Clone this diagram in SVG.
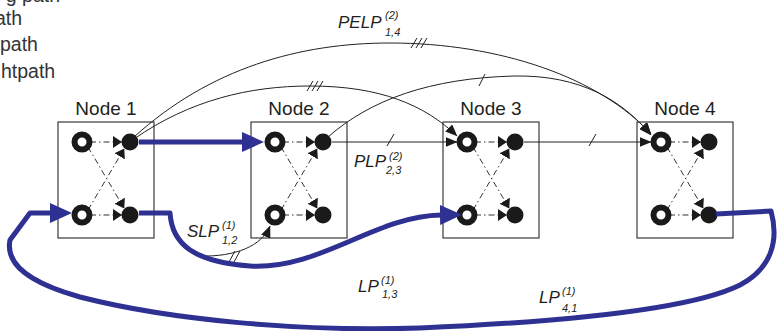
<svg xmlns="http://www.w3.org/2000/svg" xmlns:xlink="http://www.w3.org/1999/xlink" width="781" height="331" viewBox="0 0 781 331">
<style>
.box{fill:#fff;stroke:#3a3a3a;stroke-width:1.2}
.open{fill:#fff;stroke:#1a1a1a;stroke-width:6}
.fil{fill:#1a1a1a}
.dash{fill:none;stroke:#333;stroke-width:1;stroke-dasharray:6 3 1.5 3}
.thin{fill:none;stroke:#222;stroke-width:1}
.blue{fill:none;stroke:#2e3192;stroke-width:5;stroke-linejoin:round}
.txt{font-family:"Liberation Sans",Arial,sans-serif;font-size:19px;fill:#231f20}
.leg{font-family:"Liberation Sans",Arial,sans-serif;font-size:19.5px;fill:#333}
.it{font-family:"Liberation Sans",Arial,sans-serif;font-style:italic;font-size:17px;fill:#231f20}
.sm{font-family:"Liberation Sans",Arial,sans-serif;font-style:italic;font-size:11px;fill:#231f20}
</style>
<defs>
<marker id="sa" markerUnits="userSpaceOnUse" markerWidth="9" markerHeight="12" refX="8.5" refY="6" orient="auto"><path d="M0,0 L9,6 L0,12 z" fill="#1a1a1a"/></marker>
<marker id="ta" markerUnits="userSpaceOnUse" markerWidth="12" markerHeight="10" refX="11.5" refY="5" orient="auto"><path d="M0,0 L12,5 L0,10 z" fill="#1a1a1a"/></marker>
<marker id="ba" markerUnits="userSpaceOnUse" markerWidth="22" markerHeight="20" refX="1" refY="10" orient="auto"><path d="M0,0 L22,10 L0,20 z" fill="#2e3192"/></marker>
<g id="inner">
<rect class="box" x="0" y="0" width="96" height="116"/>
<line class="dash" x1="32" y1="20" x2="63.5" y2="20" marker-end="url(#sa)"/>
<line class="dash" x1="32" y1="93" x2="63.5" y2="93" marker-end="url(#sa)"/>
<line class="dash" x1="30" y1="25" x2="66" y2="86" marker-end="url(#sa)"/>
<line class="dash" x1="30" y1="88" x2="66" y2="27" marker-end="url(#sa)"/>
<circle class="open" cx="24" cy="20" r="7.5"/>
<circle class="open" cx="24" cy="93" r="7.5"/>
<circle class="fil" cx="72" cy="20" r="8.5"/>
<circle class="fil" cx="72" cy="93" r="8.5"/>
</g>
</defs>

<g id="legend">
<text class="leg" x="60" y="2" text-anchor="end">g path</text>
<text class="leg" x="22" y="25" text-anchor="end">ath</text>
<text class="leg" x="0" y="51">path</text>
<text class="leg" x="1" y="78">htpath</text>
</g>

<g id="node1"><text class="txt" x="106" y="115" text-anchor="middle">Node 1</text><use xlink:href="#inner" transform="translate(58,122)"/></g>
<g id="node2"><text class="txt" x="299" y="115" text-anchor="middle">Node 2</text><use xlink:href="#inner" transform="translate(251,122)"/></g>
<g id="node3"><text class="txt" x="491" y="115" text-anchor="middle">Node 3</text><use xlink:href="#inner" transform="translate(443,122)"/></g>
<g id="node4"><text class="txt" x="685" y="115" text-anchor="middle">Node 4</text><use xlink:href="#inner" transform="translate(637,122)"/></g>

<g id="connectors">
<path class="thin" d="M134,137 C210,68 300,43 390,43 C500,43 600,78 651,134" marker-end="url(#ta)"/>
<path class="thin" d="M134,139 C190,100 250,86 310,86 C380,86 425,105 457,136" marker-end="url(#ta)"/>
<path class="thin" d="M328,137 C370,100 430,78 515,76 C580,75 622,100 651,135" marker-end="url(#ta)"/>
<path class="thin" d="M332,142 L457,142" marker-end="url(#ta)"/>
<path class="thin" d="M524,142 L651,142" marker-end="url(#ta)"/>
<path class="thin" d="M200,256 C235,257 262,246 270,226" marker-end="url(#ta)"/>
<g class="thin">
<path d="M411,48 L417,38 M416,48 L422,38 M421,48 L427,38"/>
<path d="M307,91 L313,81 M312,91 L318,81 M317,91 L323,81"/>
<path d="M479,86 L485,74"/>
<path d="M387,146 L394,134"/>
<path d="M589,146 L596,134"/>
<path d="M229,262 L235,251 M234,262 L240,251"/>
</g>
<path class="blue" d="M139,142 L243,142" marker-end="url(#ba)"/>
<path class="blue" d="M139,213 L170,213 C172,245 195,262 250,266 C320,270 375,216 441,215" marker-end="url(#ba)"/>
<path class="blue" d="M716,214 L771,211 C779,240 772,268 740,285 C690,310 560,322 420,328 C300,332 170,320 80,297 C30,283 5,265 10,240 L30,213 L51,213" marker-end="url(#ba)"/>
</g>

<g id="labels">
<text class="it" x="338" y="28">PELP</text><text class="sm" x="385" y="19">(2)</text><text class="sm" x="385" y="36">1,4</text>
<text class="it" x="187" y="237">SLP</text><text class="sm" x="222" y="229">(1)</text><text class="sm" x="222" y="244">1,2</text>
<text class="it" x="354" y="167">PLP</text><text class="sm" x="389" y="160">(2)</text><text class="sm" x="386" y="174">2,3</text>
<text class="it" x="358" y="292">LP</text><text class="sm" x="381" y="284">(1)</text><text class="sm" x="382" y="298">1,3</text>
<text class="it" x="539" y="303">LP</text><text class="sm" x="562" y="295">(1)</text><text class="sm" x="562" y="312">4,1</text>
</g>
</svg>
